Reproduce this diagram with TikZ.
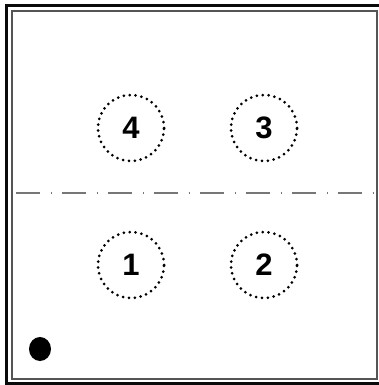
\documentclass[tikz,border=0pt]{standalone}
\usepackage{fontspec}
\setmainfont{Liberation Sans}
\usepackage{xcolor}
\definecolor{frameout}{HTML}{0A0A0A}
\definecolor{framein}{HTML}{555555}
\definecolor{axisline}{HTML}{777777}
\usetikzlibrary{positioning,shapes.geometric}
\tikzset{
  seat/.style   = {circle, draw=black, line width=3pt,
                   dash pattern=on 0pt off 5.9pt, line cap=round,
                   minimum size=66pt, inner sep=0pt,
                   font=\fontsize{31}{31}\selectfont\bfseries},
  marker/.style = {ellipse, fill=black, minimum width=22pt,
                   minimum height=24pt, inner sep=0pt},
  axis/.style   = {draw=axisline, line width=2.4pt,
                   dash pattern=on 24pt off 10.5pt on 1.5pt off 10pt}
}
\begin{document}
\begin{tikzpicture}[x=1pt,y=-1pt]
  \useasboundingbox (0,0) rectangle (379,385);
  % frames
  \draw[frameout, line width=3pt] (6,5.5) rectangle (383,383);
  \draw[framein, line width=2pt] (11.5,11.5) rectangle (377,379);
  % seats
  \node[seat] (s4) at (131,128) {4};
  \node[seat] (s3) at (264,128) {3};
  \node[seat] (s1) at (131,265) {1};
  \node[seat] (s2) at (264,265) {2};
  % centre line
  \coordinate (cl) at (16,193);
  \coordinate (cr) at (374,193);
  \draw[axis] (cl) -- (cr);
  % origin mark
  \node[marker] (m) at (40,349) {};
\end{tikzpicture}
\end{document}
